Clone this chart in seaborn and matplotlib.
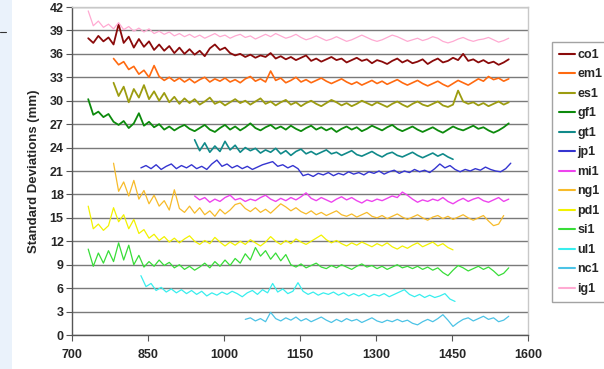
import numpy as np
import pandas as pd
import matplotlib
matplotlib.use("Agg")
import matplotlib.pyplot as plt
import seaborn as sns
from matplotlib.patches import Rectangle
from matplotlib.lines import Line2D

# sampling step along the x axis
step = 10

# first x value of every series
starts = {"co1": 732, "em1": 782, "es1": 782, "gf1": 732, "gt1": 942, "jp1": 836,
          "mi1": 942, "ng1": 782, "pd1": 732, "si1": 732, "ul1": 836, "nc1": 1042,
          "ig1": 732}

co1 = [38.0, 37.4, 38.3, 37.6, 38.1, 37.2, 39.8, 37.4, 38.2, 36.8, 37.9, 36.9, 37.6, 36.5,
       37.2, 36.4, 37.0, 36.1, 36.8, 36.0, 36.6, 35.9, 36.4, 35.7, 36.7, 37.2, 36.5, 36.8,
       36.1, 35.8, 36.0, 35.6, 35.9, 35.5, 35.8, 35.6, 36.1, 35.4, 35.7, 35.3, 35.6, 35.2,
       35.5, 35.8, 35.1, 35.4, 35.0, 35.3, 35.6, 35.2, 35.4, 34.9, 35.2, 35.5, 35.1, 35.3,
       34.8, 35.2, 35.0, 34.7, 35.1, 35.4, 34.9, 35.2, 34.8, 35.0, 35.3, 34.7, 35.1, 35.4,
       34.9, 35.1, 35.5, 35.2, 36.0, 35.1, 35.3, 34.9, 35.2, 34.8, 35.0, 34.6, 34.9, 35.3]

em1 = [35.4, 34.6, 35.0, 34.0, 34.4, 33.4, 33.9, 33.0, 34.5, 33.1, 32.6, 33.0, 32.5, 32.9,
       32.4, 32.8, 32.3, 32.7, 33.0, 32.4, 32.8, 32.5, 32.9, 32.4, 32.7, 32.3, 32.8, 33.1,
       32.5, 32.8, 32.4, 33.8, 32.6, 32.9, 32.3, 32.6, 33.0, 32.4, 32.7, 32.3, 32.6, 32.9,
       32.5, 32.2, 32.5, 32.8, 32.4, 32.1, 32.4, 32.0, 32.3, 32.6, 32.2, 32.5, 32.1, 32.4,
       32.7, 32.3, 32.0, 32.3, 32.6, 32.2, 31.9, 32.2, 32.5, 32.1, 31.8, 32.2, 32.6, 32.3,
       32.0, 32.4, 32.8, 32.5, 33.1, 32.7, 32.9, 32.5, 32.8]

es1 = [32.3, 30.6, 31.8, 29.8, 31.5, 30.4, 32.0, 30.2, 31.2, 30.0, 31.0, 29.8, 30.5, 29.6,
       30.3, 29.7, 30.2, 29.5, 29.9, 30.4, 29.6, 29.9, 29.4, 29.8, 30.2, 29.7, 30.0, 29.5,
       29.9, 30.3, 29.6, 29.9, 29.4, 29.8, 30.1, 29.5, 29.8, 29.3, 29.7, 30.0, 29.6, 29.3,
       29.7, 30.1, 29.8, 29.4, 29.7, 29.3, 29.6, 30.0, 29.7, 29.4, 29.8, 29.5, 29.2, 29.6,
       29.9, 29.5, 29.2, 29.6, 29.9, 29.5, 29.3, 29.6, 29.9, 29.4, 29.2, 29.5, 31.3, 29.9,
       29.6, 29.8, 29.4, 29.7, 29.3, 29.6, 29.9, 29.5, 29.8]

gf1 = [30.2, 28.2, 28.6, 27.9, 28.3, 27.3, 26.9, 27.4, 26.5, 27.1, 28.4, 26.8, 27.3, 26.6,
       27.0, 26.3, 26.7, 26.2, 26.6, 26.9, 26.4, 26.1, 26.5, 26.9, 26.3, 26.0, 26.5, 26.9,
       26.3, 26.7, 26.2, 26.6, 27.1, 26.5, 26.2, 26.6, 26.9, 26.4, 26.7, 26.3, 26.8, 26.4,
       26.1, 26.5, 26.8, 26.3, 26.6, 26.2, 26.5, 26.0, 26.4, 26.7, 26.3, 26.6, 26.1, 26.4,
       26.8, 26.5, 26.2, 26.6, 26.9, 26.4, 26.1, 26.4, 26.7, 26.3, 26.0, 26.3, 26.6, 26.2,
       25.9, 26.3, 26.7, 26.4, 26.2, 26.5, 26.8, 26.4, 26.6, 26.2, 25.9, 26.2, 26.6, 27.1]

gt1 = [25.0, 23.6, 24.6, 23.4, 24.2, 23.5, 24.8, 23.7, 24.3, 23.4, 24.0, 23.6, 23.9, 23.3,
       23.7, 23.4, 23.9, 23.2, 23.6, 23.0, 23.5, 23.8, 23.2, 23.5, 23.1, 23.4, 23.7, 23.2,
       23.4, 23.0, 23.3, 23.6, 23.1, 22.9, 23.2, 23.5, 23.1, 22.8, 23.2, 23.4, 23.0, 22.8,
       23.1, 23.4, 23.0, 22.7, 23.0, 23.3, 22.9, 23.2, 22.8, 22.5]

jp1 = [21.4, 21.7, 21.3, 21.8, 21.2, 21.6, 21.9, 21.3, 21.7, 21.4, 21.8, 21.3, 21.6, 21.2,
       21.9, 22.4, 21.6, 21.9, 21.4, 21.7, 21.3, 21.6, 21.2, 21.5, 21.8, 22.0, 22.2, 21.6,
       21.8, 21.4, 21.7, 21.3, 20.4, 20.6, 20.3, 20.7, 20.5, 20.8, 20.4, 20.7, 20.5, 20.9,
       20.6, 20.8, 20.5, 20.9, 20.7, 21.0, 20.6, 20.9, 21.1, 20.7, 21.0, 20.8, 21.2, 20.9,
       21.1, 20.8, 21.3, 21.9, 21.4, 21.7, 21.2, 20.9, 21.2, 21.0, 21.3, 21.1, 21.5, 21.2,
       21.0, 20.9, 21.3, 22.0]

mi1 = [17.8, 17.3, 17.6, 17.0, 17.4, 17.1, 17.6, 17.9, 17.3, 17.5, 17.1, 17.4, 17.2, 17.6,
       17.9, 17.4, 17.1, 17.5, 17.2, 17.6, 17.3, 17.7, 18.2, 17.5, 17.2, 17.6, 17.3, 17.0,
       17.4, 17.7, 17.3, 17.6, 17.2, 16.9, 17.3, 17.1, 17.4, 17.2, 17.5, 17.8, 17.6, 18.3,
       17.9, 17.4, 17.0, 17.3, 17.1, 17.4, 17.2, 17.6, 17.1, 16.8, 17.2, 17.5, 17.1, 17.4,
       17.6, 17.2, 17.0, 17.3, 17.6, 17.1, 17.4]

ng1 = [22.0, 18.4, 19.6, 17.8, 19.8, 17.4, 18.5, 16.8, 17.9, 16.5, 17.2, 16.0, 18.6, 16.2,
       15.7, 16.5, 15.6, 16.3, 15.4, 15.9, 15.2, 16.1, 15.5, 16.0, 16.7, 16.9, 16.2, 15.8,
       16.3, 15.7, 16.1, 15.6, 16.2, 16.8, 16.4, 15.9, 16.3, 15.8, 15.5, 15.9, 15.4, 15.7,
       15.3, 15.6, 15.9, 15.4, 15.2, 15.5, 15.1, 15.4, 15.7, 15.2, 15.0, 15.3, 14.9, 15.2,
       15.5, 15.1, 14.8, 15.1, 15.4, 15.0, 14.7, 15.1, 15.3, 14.9, 15.2, 14.8, 15.1, 15.4,
       15.0, 14.7, 15.0, 15.3, 14.6, 14.0, 14.2, 15.3]

pd1 = [16.5, 13.6, 14.2, 13.4, 14.0, 16.3, 14.5, 15.4, 13.6, 14.8, 13.0, 13.5, 12.4, 12.9,
       12.1, 12.6, 11.9, 12.4, 11.8, 12.3, 12.7, 12.0, 11.6, 12.1, 11.7, 12.5, 11.9, 11.4,
       11.9, 11.5, 12.0, 11.6, 12.2, 11.8, 11.4, 11.9, 12.6, 12.0, 11.6, 12.1, 11.7, 12.3,
       11.9, 11.6, 12.0, 12.4, 12.8, 12.2, 11.8, 12.1, 11.7, 11.4, 11.8, 11.5, 11.9, 11.6,
       11.3, 11.7, 11.4, 11.8, 11.3, 11.0, 11.4, 11.1, 11.5, 11.8, 11.3, 11.6, 11.9, 11.4,
       11.7, 11.2, 10.9]

si1 = [11.0, 8.8, 10.5, 9.2, 10.8, 9.4, 11.8, 9.6, 11.5, 9.0, 10.2, 8.7, 9.4, 8.8,
       9.6, 8.9, 9.3, 8.6, 9.0, 8.4, 8.8, 8.3, 8.7, 9.2, 8.6, 9.4, 8.8, 9.6,
       8.9, 9.8, 9.2, 10.4, 9.6, 11.2, 10.1, 10.8, 9.7, 10.5, 9.5, 10.3, 9.0, 8.7,
       9.1, 8.6, 8.9, 9.2, 8.7, 8.5, 8.9, 8.6, 9.0, 8.7, 8.4, 8.8, 9.1, 8.7,
       8.9, 8.5, 8.8, 8.4, 8.7, 9.0, 8.6, 8.8, 8.5, 8.8, 8.4, 8.7, 8.3, 8.6,
       8.0, 7.6, 8.3, 8.9, 8.6, 8.2, 8.5, 8.8, 8.4, 8.7, 8.2, 7.6, 7.9, 8.6]

ul1 = [7.6, 6.2, 6.6, 5.7, 6.1, 5.5, 5.9, 5.4, 5.8, 5.3, 5.7, 5.2, 5.6, 5.0,
       5.4, 5.1, 5.5, 5.2, 5.6, 5.3, 4.9, 5.4, 5.7, 5.2, 5.8, 5.4, 6.6, 5.5,
       5.9, 5.3, 5.6, 6.7, 5.6, 5.2, 5.5, 5.1, 5.4, 5.2, 5.5, 5.1, 5.4, 5.0,
       5.3, 5.0, 5.3, 4.9, 5.2, 5.0, 5.3, 4.9, 5.2, 5.5, 5.8, 5.2, 4.9, 5.2,
       4.8, 5.1, 4.8, 5.0, 5.3, 4.6, 4.3]

nc1 = [2.0, 2.2, 1.8, 2.1, 1.7, 2.9, 2.1, 1.8, 2.2, 1.9, 2.3, 1.8, 2.1, 1.7,
       2.0, 2.3, 1.9, 1.6, 2.0, 1.7, 2.1, 1.8, 2.0, 1.6, 1.9, 2.2, 1.8, 1.6,
       1.9, 1.7, 2.0, 1.7, 1.9, 1.5, 1.3, 1.7, 2.0, 1.7, 2.1, 2.6, 1.9, 1.1,
       1.6, 2.0, 2.2, 1.8, 2.1, 2.4, 2.0, 2.2, 1.7, 1.9, 2.4]

ig1 = [41.5, 39.6, 40.2, 39.4, 39.8, 39.2, 40.0, 39.1, 39.5, 38.9, 39.3, 38.8, 39.2, 38.6,
       38.9, 38.5, 38.8, 38.3, 38.6, 38.2, 38.5, 38.1, 38.4, 38.0, 38.3, 38.6, 38.2, 38.4,
       38.0, 38.3, 38.5, 38.1, 38.3, 37.9, 38.2, 38.5, 38.2, 38.6, 38.3, 38.0, 38.2, 38.5,
       38.1, 37.8, 38.0, 38.3, 38.0, 37.7, 37.9, 38.2, 37.9, 37.6, 37.8, 38.1, 38.4, 38.1,
       37.8, 37.6, 37.8, 38.1, 38.4, 38.2, 37.9, 37.6, 37.8, 38.0, 37.7, 37.9, 38.2, 38.0,
       37.6, 37.4, 37.6, 37.9, 38.1, 37.8, 37.6, 37.8, 37.9, 38.1, 37.8, 37.5, 37.7, 38.0]

values = {"co1": co1, "em1": em1, "es1": es1, "gf1": gf1, "gt1": gt1, "jp1": jp1,
          "mi1": mi1, "ng1": ng1, "pd1": pd1, "si1": si1, "ul1": ul1, "nc1": nc1,
          "ig1": ig1}

colors = {"co1": "#8a0a0a", "em1": "#ff6a10", "es1": "#9c9c10", "gf1": "#0c8a0c",
          "gt1": "#108a8a", "jp1": "#3535d0", "mi1": "#ee44ee", "ng1": "#f7bb2a",
          "pd1": "#f2f200", "si1": "#38dd38", "ul1": "#38eeee", "nc1": "#4cc3e6",
          "ig1": "#ffaad2"}
widths = {"co1": 1.3, "em1": 1.2, "es1": 1.3, "gf1": 1.3, "gt1": 1.2, "jp1": 1.0,
          "mi1": 1.0, "ng1": 0.9, "pd1": 0.9, "si1": 0.9, "ul1": 0.9, "nc1": 0.9,
          "ig1": 0.9}

# long-form table for seaborn
frames = []
for name, vals in values.items():
    xs = starts[name] + step * np.arange(len(vals))
    frames.append(pd.DataFrame({"x": xs, "sd": vals, "series": name}))
df = pd.concat(frames, ignore_index=True)

sns.set_style("white")
plt.rcParams["font.family"] = ["Liberation Sans", "DejaVu Sans"]
plt.rcParams["font.weight"] = "bold"

fig = plt.figure(figsize=(6.04, 3.69), dpi=100)
fig.patch.set_facecolor("white")
# pale blue strip at the left edge of the screenshot
fig.add_artist(Rectangle((0, 0), 12 / 604, 1, transform=fig.transFigure,
                         facecolor="#eaf2fb", edgecolor="none", zorder=0))
fig.add_artist(Line2D([0, 6 / 604], [1 - 32 / 369, 1 - 32 / 369], transform=fig.transFigure,
                      color="#333333", lw=0.8))

ax = fig.add_axes([72 / 604, 1 - 335 / 369, (528 - 72) / 604, (335 - 7) / 369])

for name in values:
    sns.lineplot(data=df[df["series"] == name], x="x", y="sd", color=colors[name],
                 lw=widths[name], label=name, estimator=None, sort=False, ax=ax)

ax.set_xlim(700, 1600)
ax.set_ylim(0, 42)
ax.set_xticks(np.arange(700, 1601, 150))
ax.set_yticks(np.arange(0, 43, 3))
ax.yaxis.grid(True, color="#7a7a7a", lw=1.0)
ax.set_axisbelow(True)
ax.set_xlabel("")
ax.set_ylabel("Standard Deviations (mm)", fontsize=9.5, fontweight="bold")
ax.yaxis.set_label_coords(-0.071, 0.5)
ax.tick_params(axis="both", labelsize=9, length=4, width=0.8, color="#555555",
               direction="out", pad=2, left=True, bottom=True)
ax.tick_params(axis="x", pad=6)
for side in ["left", "bottom"]:
    ax.spines[side].set_color("#555555")
    ax.spines[side].set_linewidth(1.0)
for side in ["top", "right"]:
    ax.spines[side].set_color("#c8c8c8")
    ax.spines[side].set_linewidth(1.0)

leg = ax.legend(loc="upper left", bbox_to_anchor=(552 / 604, 1 - 42 / 369),
                bbox_transform=fig.transFigure, frameon=True, fancybox=False,
                edgecolor="#8c8c8c", fontsize=9, handlelength=1.3, handletextpad=0.2,
                labelspacing=0.6, borderpad=0.55, borderaxespad=0)
leg.get_frame().set_linewidth(1.0)
for line in leg.get_lines():
    line.set_linewidth(1.5)

fig.savefig("out.png", dpi=100)
